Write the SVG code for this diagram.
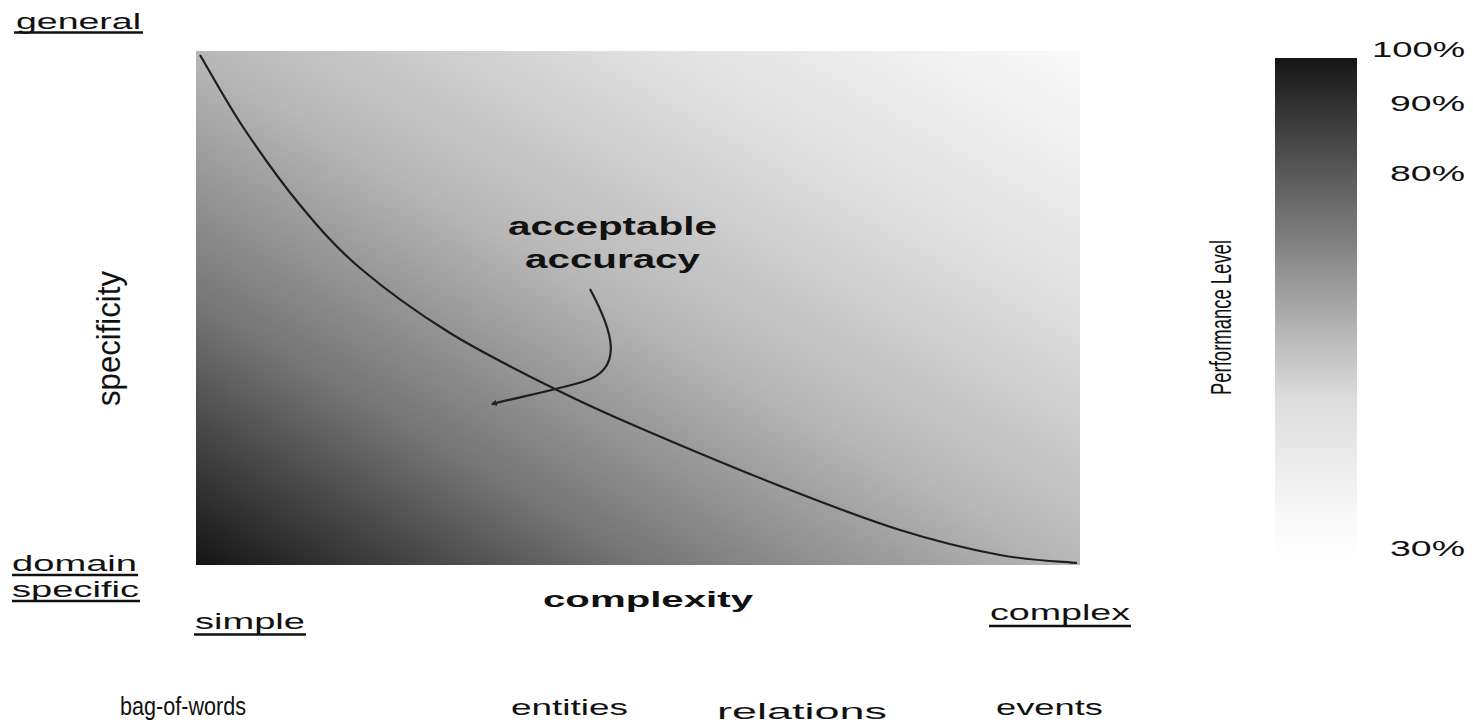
<svg xmlns="http://www.w3.org/2000/svg" width="1473" height="724" viewBox="0 0 1473 724">
<defs>
<linearGradient id="plotGrad" x1="0" y1="1" x2="1" y2="0">
<stop offset="0" stop-color="#141414"/>
<stop offset="0.25" stop-color="#747474"/>
<stop offset="0.5" stop-color="#b8b8b8"/>
<stop offset="0.75" stop-color="#e0e0e0"/>
<stop offset="1" stop-color="#fafafa"/>
</linearGradient>
<linearGradient id="barGrad" x1="0" y1="0" x2="0" y2="1">
<stop offset="0" stop-color="#161616"/>
<stop offset="0.34" stop-color="#7a7a7a"/>
<stop offset="0.67" stop-color="#dcdcdc"/>
<stop offset="0.9" stop-color="#f8f8f8"/>
<stop offset="1" stop-color="#ffffff"/>
</linearGradient>
<marker id="arrowHead" viewBox="0 0 10 10" refX="8" refY="5" markerWidth="6" markerHeight="6" orient="auto-start-reverse" markerUnits="userSpaceOnUse">
<path d="M0,0 L10,5 L0,10 z" fill="#222"/>
</marker>
<style>
.lbl{font-family:"Liberation Sans",Arial,sans-serif;font-size:22px;fill:#111;}
.bold{font-weight:bold;}
.ul{stroke:#111;stroke-width:2.5;}
.curve{fill:none;stroke:#1e1e1e;stroke-width:2.2;}
</style>
</defs>

<g id="plot">
<rect x="196" y="51" width="884" height="514" fill="url(#plotGrad)"/>
</g>

<g id="colorbar">
<rect x="1275" y="58" width="82" height="507" fill="url(#barGrad)"/>
<text class="lbl" x="1372" y="57" textLength="93" lengthAdjust="spacingAndGlyphs">100%</text>
<text class="lbl" x="1390" y="111" textLength="75" lengthAdjust="spacingAndGlyphs">90%</text>
<text class="lbl" x="1390" y="181" textLength="75" lengthAdjust="spacingAndGlyphs">80%</text>
<text class="lbl" x="1390" y="556" textLength="75" lengthAdjust="spacingAndGlyphs">30%</text>
<text class="lbl" transform="translate(1231,395) scale(1.75,1) rotate(-90)" x="0" y="0" style="font-size:17px" textLength="155" lengthAdjust="spacingAndGlyphs">Performance Level</text>
</g>

<g id="axis-labels">
<text class="lbl" x="16" y="29" textLength="125" lengthAdjust="spacingAndGlyphs">general</text>
<line class="ul" x1="14" y1="32.5" x2="143" y2="32.5"/>
<text class="lbl" x="12" y="571" textLength="125" lengthAdjust="spacingAndGlyphs">domain</text>
<line class="ul" x1="12" y1="575" x2="138" y2="575"/>
<text class="lbl" x="12" y="597" textLength="127" lengthAdjust="spacingAndGlyphs">specific</text>
<line class="ul" x1="12" y1="601" x2="140" y2="601"/>
<text class="lbl" x="195" y="629" textLength="110" lengthAdjust="spacingAndGlyphs">simple</text>
<line class="ul" x1="194" y1="634.5" x2="306" y2="634.5"/>
<text class="lbl" x="990" y="620" textLength="140" lengthAdjust="spacingAndGlyphs">complex</text>
<line class="ul" x1="989" y1="626" x2="1131" y2="626"/>
<text class="lbl bold" x="543" y="607" textLength="210" lengthAdjust="spacingAndGlyphs">complexity</text>
<text class="lbl" transform="translate(120,406) scale(1.6,1) rotate(-90)" x="0" y="0" style="font-size:21px" textLength="135" lengthAdjust="spacingAndGlyphs">specificity</text>
<text class="lbl" x="120" y="715" style="font-size:25px" textLength="126" lengthAdjust="spacingAndGlyphs">bag-of-words</text>
<text class="lbl" x="511" y="715" textLength="117" lengthAdjust="spacingAndGlyphs">entities</text>
<text class="lbl" x="717" y="719" textLength="170" lengthAdjust="spacingAndGlyphs">relations</text>
<text class="lbl" x="996" y="715" textLength="107" lengthAdjust="spacingAndGlyphs">events</text>
</g>

<g id="annotation">
<text class="lbl bold" x="508" y="235" textLength="209" lengthAdjust="spacingAndGlyphs" style="font-size:25px">acceptable</text>
<text class="lbl bold" x="525" y="268" textLength="175" lengthAdjust="spacingAndGlyphs" style="font-size:25px">accuracy</text>
</g>

<g id="connectors">
<path class="curve" d="M200,55 C207.2,67 226.3,102 243,127 C259.7,152 280.5,181.5 300,205 C319.5,228.5 335,246.7 360,268 C385,289.3 417.2,312.7 450,333 C482.8,353.3 525.3,374.2 557,390 C588.7,405.8 602.8,412 640,428 C677.2,444 736.7,469 780,486 C823.3,503 863.3,518.5 900,530 C936.7,541.5 970.5,549.5 1000,555 C1029.5,560.5 1064.2,561.7 1077,563"/>
<path class="curve" d="M590,289 C612,330 625,368 585,381 C560,389 520,397 492,404" marker-end="url(#arrowHead)"/>
</g>
</svg>
